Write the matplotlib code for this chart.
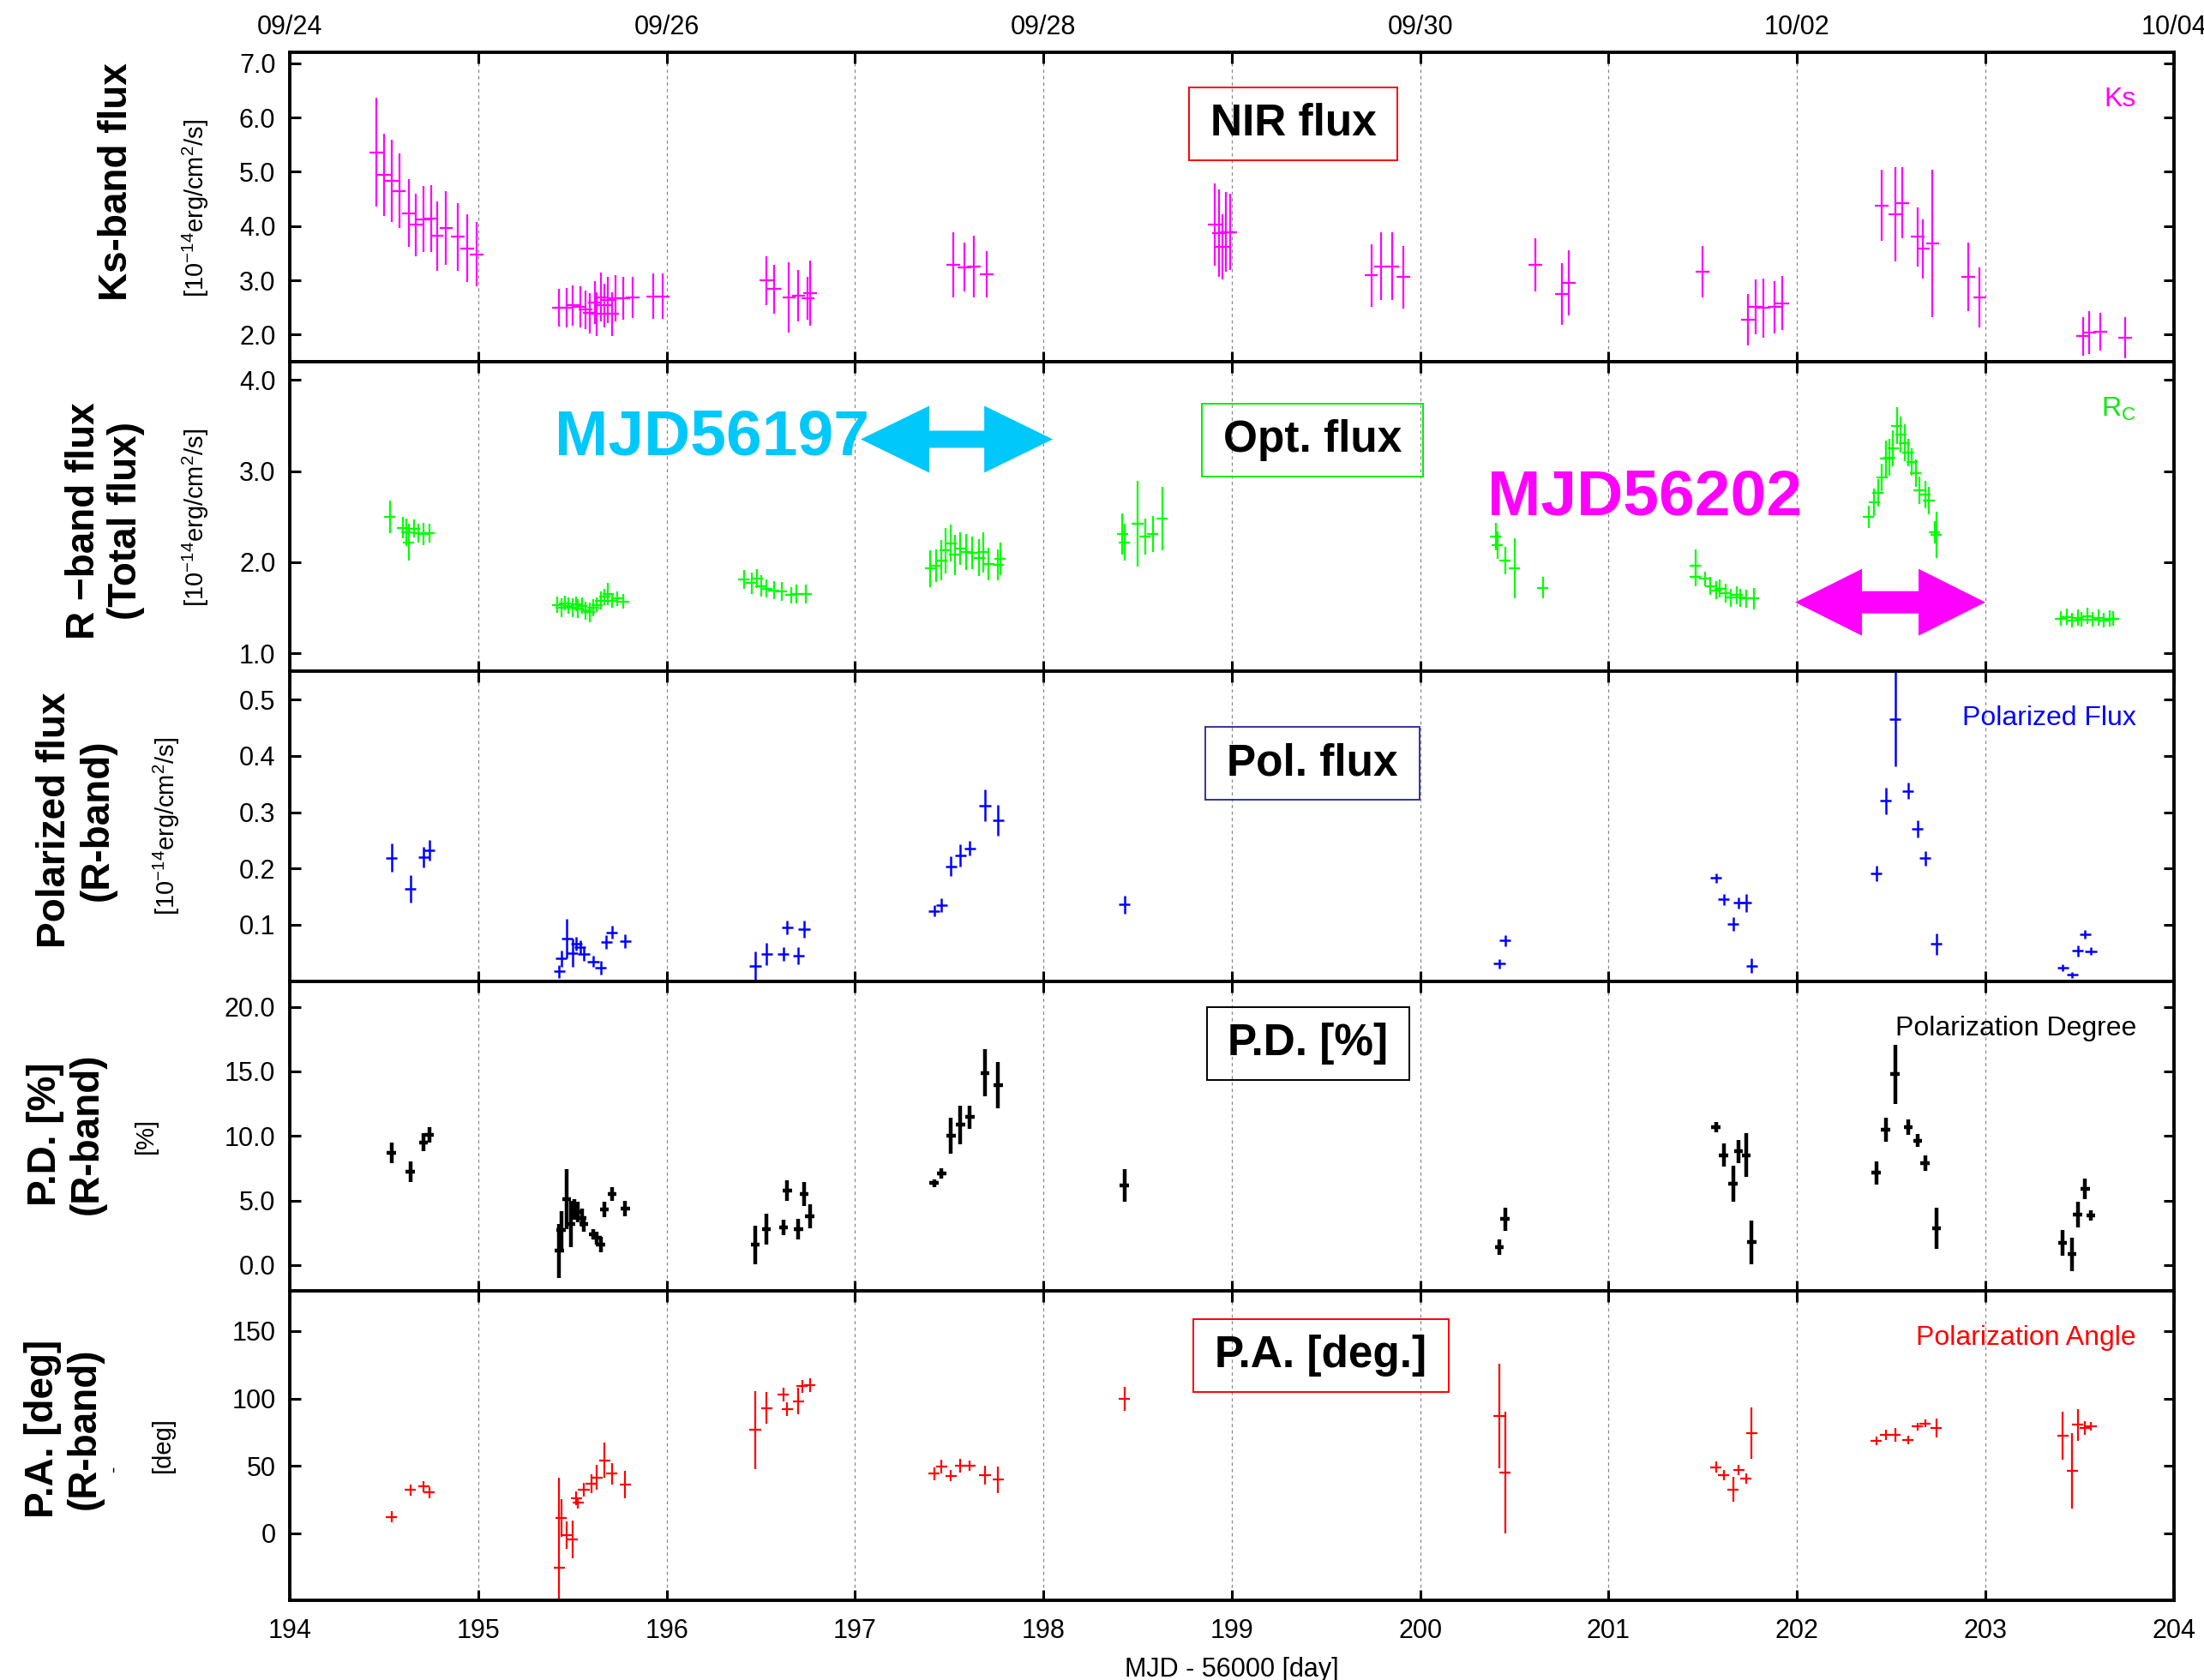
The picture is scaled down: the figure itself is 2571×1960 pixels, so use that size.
import matplotlib
matplotlib.use("Agg")
import matplotlib.pyplot as plt
from matplotlib.patches import Rectangle, Polygon
import numpy as np

plt.rcParams['font.family'] = ['Liberation Sans', 'DejaVu Sans']
plt.rcParams['mathtext.fontset'] = 'custom'
plt.rcParams['mathtext.rm'] = 'Liberation Sans'
plt.rcParams['mathtext.it'] = 'Liberation Sans:italic'
plt.rcParams['mathtext.bf'] = 'Liberation Sans:bold'

# ---------------- data (MJD - 56000) ----------------
# Ks band flux [1e-14 erg/cm2/s]
ks_mjd = [194.46, 194.50, 194.54, 194.58, 194.63, 194.67, 194.71, 194.75, 194.78, 194.83, 194.89, 194.94, 194.99,
          195.43, 195.47, 195.50, 195.54, 195.57, 195.59, 195.62, 195.63, 195.65, 195.67, 195.69, 195.71, 195.73,
          195.77, 195.82, 195.93, 195.98,
          196.53, 196.57, 196.65, 196.70, 196.75, 196.76,
          197.52, 197.58, 197.63, 197.70,
          198.91, 198.93, 198.95, 198.97, 198.99,
          199.74, 199.79, 199.85, 199.91,
          200.61, 200.75, 200.79,
          201.50, 201.74, 201.78, 201.82, 201.88, 201.92,
          202.45, 202.52, 202.56, 202.64, 202.67, 202.72, 202.91, 202.97,
          203.52, 203.55, 203.61, 203.74]
ks_flux = [5.36, 4.94, 4.83, 4.65, 4.24, 4.02, 4.13, 4.14, 3.82, 3.97, 3.80, 3.59, 3.48,
           2.50, 2.50, 2.54, 2.51, 2.46, 2.40, 2.59, 2.38, 2.69, 2.54, 2.64, 2.38, 2.67,
           2.67, 2.69, 2.71, 2.71,
           3.00, 2.84, 2.69, 2.72, 2.67, 2.77,
           3.29, 3.24, 3.26, 3.11,
           4.03, 3.87, 3.61, 3.89, 3.89,
           3.09, 3.26, 3.26, 3.06,
           3.29, 2.75, 2.96,
           3.16, 2.28, 2.51, 2.49, 2.51, 2.58,
           4.38, 4.22, 4.43, 3.80, 3.58, 3.68, 3.06, 2.69,
           1.97, 2.04, 2.06, 1.95]
ks_err = [1.00, 0.76, 0.76, 0.68, 0.63, 0.58, 0.60, 0.62, 0.64, 0.68, 0.63, 0.62, 0.59,
          0.35, 0.36, 0.37, 0.38, 0.35, 0.37, 0.40, 0.40, 0.45, 0.40, 0.42, 0.40, 0.42,
          0.40, 0.38, 0.42, 0.42,
          0.45, 0.45, 0.65, 0.47, 0.40, 0.60,
          0.60, 0.45, 0.57, 0.43,
          0.76, 0.80, 0.60, 0.73, 0.70,
          0.58, 0.62, 0.62, 0.58,
          0.49, 0.57, 0.60,
          0.48, 0.47, 0.50, 0.54, 0.48, 0.50,
          0.65, 0.87, 0.65, 0.55, 0.55, 1.35, 0.63, 0.55,
          0.35, 0.40, 0.35, 0.38]

# Rc band total flux [1e-14 erg/cm2/s]
r_mjd = [194.53, 194.60, 194.62, 194.63, 194.66, 194.68, 194.71, 194.74,
         195.42, 195.44, 195.46, 195.48, 195.50, 195.52, 195.53, 195.55, 195.57, 195.59, 195.61, 195.63,
         195.65, 195.67, 195.69, 195.71, 195.74, 195.77,
         196.41, 196.45, 196.48, 196.50, 196.53, 196.57, 196.61, 196.66, 196.69, 196.74,
         197.40, 197.43, 197.46, 197.48, 197.51, 197.53, 197.56, 197.59, 197.62, 197.66, 197.68, 197.71,
         197.76, 197.77,
         198.42, 198.43, 198.50, 198.54, 198.58, 198.63,
         200.40, 200.41, 200.45, 200.50, 200.65,
         201.46, 201.46, 201.51, 201.54, 201.57, 201.59, 201.62, 201.65, 201.68, 201.70, 201.73, 201.77,
         202.38, 202.41, 202.43, 202.45, 202.47, 202.49, 202.51, 202.53, 202.55, 202.57, 202.59, 202.61,
         202.63, 202.65, 202.68, 202.70, 202.73, 202.74,
         203.40, 203.43, 203.46, 203.49, 203.51, 203.54, 203.57, 203.60, 203.63, 203.66, 203.68]
r_flux = [2.50, 2.38, 2.33, 2.22, 2.37, 2.32, 2.31, 2.32,
          1.53, 1.50, 1.55, 1.52, 1.50, 1.54, 1.49, 1.52, 1.47, 1.45, 1.50, 1.53,
          1.58, 1.62, 1.65, 1.58, 1.60, 1.57,
          1.81, 1.77, 1.82, 1.74, 1.71, 1.69, 1.68, 1.64, 1.65, 1.65,
          1.93, 1.96, 2.02, 2.13, 2.21, 2.08, 2.15, 2.11, 2.10, 2.05, 2.11, 1.98,
          1.97, 2.04,
          2.31, 2.22, 2.42, 2.28, 2.31, 2.48,
          2.28, 2.19, 2.02, 1.93, 1.72,
          1.96, 1.84, 1.82, 1.74, 1.69, 1.71, 1.66, 1.61, 1.64, 1.61, 1.60, 1.60,
          2.50, 2.66, 2.76, 2.93, 3.14, 3.15, 3.25, 3.50, 3.40, 3.31, 3.20, 3.10,
          2.98, 2.79, 2.74, 2.68, 2.33, 2.30,
          1.38, 1.40, 1.36, 1.39, 1.37, 1.41, 1.37, 1.39, 1.36, 1.38, 1.38]
r_err = [0.18, 0.12, 0.15, 0.20, 0.10, 0.10, 0.12, 0.10,
         0.09, 0.10, 0.08, 0.09, 0.10, 0.08, 0.10, 0.09, 0.10, 0.11, 0.09, 0.08,
         0.10, 0.09, 0.12, 0.08, 0.08, 0.08,
         0.10, 0.12, 0.10, 0.12, 0.10, 0.10, 0.10, 0.09, 0.10, 0.10,
         0.20, 0.18, 0.22, 0.25, 0.20, 0.22, 0.18, 0.20, 0.18, 0.20, 0.22, 0.18,
         0.17, 0.18,
         0.23, 0.20, 0.47, 0.20, 0.20, 0.35,
         0.15, 0.15, 0.15, 0.33, 0.12,
         0.18, 0.10, 0.08, 0.10, 0.10, 0.10, 0.10, 0.10, 0.10, 0.10, 0.10, 0.12,
         0.12, 0.15, 0.15, 0.15, 0.20, 0.20, 0.20, 0.20, 0.20, 0.20, 0.15, 0.15,
         0.15, 0.15, 0.15, 0.15, 0.12, 0.25,
         0.08, 0.09, 0.08, 0.09, 0.08, 0.09, 0.08, 0.09, 0.08, 0.09, 0.08]

# Polarized flux (R band) [1e-14 erg/cm2/s]
pf_mjd = [194.54, 194.64, 194.71, 194.74,
          195.43, 195.44, 195.47, 195.50, 195.52, 195.54, 195.56, 195.61, 195.65, 195.68, 195.71, 195.78,
          196.47, 196.53, 196.62, 196.64, 196.70, 196.73,
          197.42, 197.46, 197.51, 197.56, 197.61, 197.69, 197.76,
          198.43,
          200.42, 200.45,
          201.57, 201.61, 201.66, 201.69, 201.73, 201.76,
          202.42, 202.47, 202.52, 202.59, 202.64, 202.68, 202.74,
          203.41, 203.46, 203.49, 203.53, 203.56]
pf_val = [0.219, 0.164, 0.220, 0.232,
          0.017, 0.040, 0.076, 0.050, 0.066, 0.060, 0.048, 0.035, 0.024, 0.070, 0.087, 0.071,
          0.027, 0.048, 0.048, 0.095, 0.045, 0.092,
          0.125, 0.135, 0.204, 0.223, 0.236, 0.312, 0.286,
          0.136,
          0.031, 0.072,
          0.183, 0.145, 0.102, 0.139, 0.139, 0.027,
          0.191, 0.320, 0.466, 0.338, 0.271, 0.218, 0.066,
          0.024, 0.011, 0.054, 0.083, 0.053]
pf_err = [0.025, 0.025, 0.018, 0.018,
          0.012, 0.015, 0.035, 0.025, 0.012, 0.012, 0.012, 0.010, 0.012, 0.012, 0.012, 0.012,
          0.025, 0.020, 0.012, 0.012, 0.015, 0.015,
          0.010, 0.012, 0.018, 0.020, 0.013, 0.028, 0.027,
          0.016,
          0.008, 0.010,
          0.008, 0.010, 0.012, 0.010, 0.016, 0.013,
          0.014, 0.023, 0.084, 0.014, 0.015, 0.013, 0.019,
          0.006, 0.005, 0.010, 0.008, 0.007]

# Polarization degree [%]
pd_mjd = [194.54, 194.64, 194.71, 194.74,
          195.43, 195.44, 195.47, 195.49, 195.51, 195.53, 195.55, 195.56, 195.61, 195.63, 195.65, 195.67,
          195.71, 195.78,
          196.47, 196.53, 196.62, 196.64, 196.70, 196.73, 196.76,
          197.42, 197.46, 197.51, 197.56, 197.61, 197.69, 197.76,
          198.43,
          200.42, 200.45,
          201.57, 201.61, 201.66, 201.69, 201.73, 201.76,
          202.42, 202.47, 202.52, 202.59, 202.64, 202.68, 202.74,
          203.41, 203.46, 203.49, 203.53, 203.56]
pd_val = [8.7, 7.2, 9.5, 10.1,
          1.1, 2.7, 5.1, 3.2, 4.3, 4.1, 3.65, 3.2, 2.4, 2.1, 1.55, 4.3,
          5.5, 4.4,
          1.55, 2.77, 2.9, 5.75, 2.77, 5.5, 3.77,
          6.35, 7.1, 10.0, 10.85, 11.45, 14.9, 13.95,
          6.16,
          1.4, 3.55,
          10.7, 8.5, 6.27, 8.8, 8.5, 1.77,
          7.13, 10.47, 14.77, 10.7, 9.63, 7.9, 2.86,
          1.7, 0.82, 3.88, 5.91, 3.84]
pd_err = [0.8, 0.8, 0.7, 0.6,
          2.1, 1.5, 2.3, 1.8, 0.8, 0.8, 0.7, 0.6, 0.4, 0.5, 0.6, 0.6,
          0.5, 0.6,
          1.5, 1.2, 0.6, 0.8, 0.8, 0.9, 0.9,
          0.3, 0.4, 1.4, 1.5, 0.9, 1.8, 1.8,
          1.25,
          0.6, 0.9,
          0.4, 0.9, 1.4, 0.9, 1.7, 1.7,
          0.9, 0.95, 2.3, 0.6, 0.5, 0.6, 1.6,
          1.0, 1.3, 1.0, 0.8, 0.4]

# Polarization angle [deg]
pa_mjd = [194.54, 194.64, 194.71, 194.74,
          195.43, 195.44, 195.47, 195.50, 195.52, 195.53, 195.56, 195.60, 195.63, 195.67, 195.71, 195.78,
          196.47, 196.53, 196.62, 196.64, 196.70, 196.72, 196.76,
          197.42, 197.46, 197.51, 197.56, 197.61, 197.69, 197.76,
          198.43,
          200.42, 200.45,
          201.57, 201.61, 201.66, 201.69, 201.73, 201.76,
          202.42, 202.47, 202.52, 202.59, 202.64, 202.68, 202.74,
          203.41, 203.46, 203.49, 203.53, 203.56]
pa_val = [12.0, 32.0, 34.6, 30.0,
          -26.0, 11.3, -1.5, -4.7, 26.0, 22.5, 32.0, 36.8, 41.4, 54.0, 44.0, 36.0,
          76.7, 93.0, 103.0, 92.0, 98.0, 109.0, 110.0,
          44.0, 49.5, 42.7, 50.0, 50.0, 43.0, 39.7,
          99.9,
          87.0, 45.0,
          48.9, 43.0, 32.5, 46.8, 40.6, 74.4,
          68.6, 72.9, 72.9, 69.0, 79.0, 81.4, 78.0,
          72.2, 46.0, 80.3, 78.0, 79.3]
pa_err = [4, 4, 4, 4,
          67, 14, 10, 14, 5, 4, 5, 7, 9, 13, 8, 10,
          29, 12, 5, 5, 10, 5, 5,
          5, 5, 4, 5, 4, 7, 10,
          9,
          39, 45,
          4, 4, 9, 4, 4, 19,
          3, 4, 5, 3, 3, 3, 7,
          18, 28, 12, 5, 3]

date_ticks = [194, 196, 198, 200, 202, 204]
date_labels = ["09/24", "09/26", "09/28", "09/30", "10/02", "10/04"]

# ---------------- figure ----------------
fig, axes = plt.subplots(5, 1, sharex=True, figsize=(25.71, 19.6), dpi=100)
fig.subplots_adjust(left=0.1315, right=0.9863, top=0.9689, bottom=0.0474, hspace=0)

panels = [
    dict(x=ks_mjd, y=ks_flux, e=ks_err, c='#ff00ff', lw=1.6, xe=0.036,
         ylim=(1.5, 7.2), ticks=[2, 3, 4, 5, 6, 7], fmt='%.1f',
         tag='Ks', box='NIR flux', boxc='#ff0000', boxpos=(0.4773, 0.652, 0.1105, 0.235),
         label='Ks-band flux', lx=0.0529, ly=0.8918,
         unit=r'[10$^{-14}$erg/cm$^{2}$/s]', ux=0.0887, uy=0.876),
    dict(x=r_mjd, y=r_flux, e=r_err, c='#00ff00', lw=1.6, xe=0.03,
         ylim=(0.8, 4.2), ticks=[1, 2, 3, 4], fmt='%.1f',
         tag=r'R$_\mathrm{C}$', box='Opt. flux', boxc='#00ee00', boxpos=(0.4841, 0.629, 0.1174, 0.235),
         label='R \u2212band flux\n(Total flux)', lx=0.0475, ly=0.690,
         unit=r'[10$^{-14}$erg/cm$^{2}$/s]', ux=0.0887, uy=0.692),
    dict(x=pf_mjd, y=pf_val, e=pf_err, c='#0000ff', lw=1.8, xe=0.03,
         ylim=(0.0, 0.55), ticks=[0.1, 0.2, 0.3, 0.4, 0.5], fmt='%.1f',
         tag='Polarized Flux', box='Pol. flux', boxc='#33339a', boxpos=(0.4859, 0.587, 0.1137, 0.233),
         label='Polarized flux\n(R-band)', lx=0.0346, ly=0.512,
         unit=r'[10$^{-14}$erg/cm$^{2}$/s]', ux=0.0758, uy=0.508),
    dict(x=pd_mjd, y=pd_val, e=pd_err, c='#000000', lw=3.2, xe=0.024,
         ylim=(-2, 22), ticks=[0, 5, 10, 15, 20], fmt='%.1f',
         tag='Polarization Degree', box='P.D. [%]', boxc='#000000', boxpos=(0.4868, 0.682, 0.1074, 0.235),
         label='P.D. [%]\n(R-band)', lx=0.030, ly=0.325,
         unit='[%]', ux=0.0661, uy=0.324),
    dict(x=pa_mjd, y=pa_val, e=pa_err, c='#ff0000', lw=1.6, xe=0.03,
         ylim=(-50, 180), ticks=[0, 50, 100, 150], fmt='%d',
         tag='Polarization Angle', box='P.A. [deg.]', boxc='#ff0000', boxpos=(0.4795, 0.674, 0.1356, 0.235),
         label='P.A. [deg]\n(R-band)', lx=0.029, ly=0.1495,
         unit='[deg]', ux=0.0739, uy=0.140),
]

for ax, p in zip(axes, panels):
    ax.errorbar(p['x'], p['y'], yerr=p['e'], xerr=p['xe'], fmt='none',
                ecolor=p['c'], elinewidth=p['lw'], capsize=0)
    ax.set_xlim(194, 204)
    ax.set_ylim(*p['ylim'])
    ax.set_yticks(p['ticks'])
    ax.set_yticklabels([p['fmt'] % t for t in p['ticks']])
    ax.set_xticks(np.arange(194, 205, 1))
    ax.grid(axis='x', color='#888888', linestyle=(0, (3, 3)), linewidth=0.9)
    ax.tick_params(axis='both', direction='in', length=9, width=2.2,
                   top=True, right=True, labelsize=22)
    ax.tick_params(axis='y', pad=12)
    ax.tick_params(axis='x', pad=15)
    for s in ax.spines.values():
        s.set_linewidth(2.8)

    ax.text(0.980, 0.848, p['tag'], transform=ax.transAxes, ha='right', va='center',
            fontsize=23, color=p['c'] if p['c'] != '#00ff00' else '#00ee00')
    bx, by, bw, bh = p['boxpos']
    ax.add_patch(Rectangle((bx, by), bw, bh, transform=ax.transAxes, fill=False,
                           edgecolor=p['boxc'], linewidth=1.4, zorder=5))
    ax.text(bx + bw / 2, by + bh / 2, p['box'], transform=ax.transAxes, ha='center',
            va='center', fontsize=37, fontweight='bold', zorder=6)

    fig.text(p['lx'], p['ly'], p['label'], rotation=90, ha='center', va='center',
             fontsize=33, fontweight='bold', multialignment='center', linespacing=1.15)
    fig.text(p['ux'], p['uy'], p['unit'], rotation=90, ha='center', va='center', fontsize=21)

fig.text(133 / 2571, 1 - 1713 / 1960, '-', rotation=90, ha='center', va='center', fontsize=16)

axes[-1].set_xticklabels([str(v) for v in range(194, 205)])
axes[-1].set_xlabel('MJD - 56000 [day]', fontsize=22, labelpad=11)

top = axes[0].secondary_xaxis('top')
top.set_xticks(date_ticks)
top.set_xticklabels(date_labels)
top.tick_params(length=0, labelsize=22, pad=10)
top.spines['top'].set_visible(False)


def double_arrow(ax, x0, x1, yc, head_px, half_px, shaft_px, color):
    pos = ax.get_position()
    w_px = pos.width * fig.get_figwidth() * fig.dpi
    h_px = pos.height * fig.get_figheight() * fig.dpi
    xl, yl = ax.get_xlim(), ax.get_ylim()
    hl = head_px * (xl[1] - xl[0]) / w_px
    hw = half_px * (yl[1] - yl[0]) / h_px
    sw = shaft_px * (yl[1] - yl[0]) / h_px
    verts = [(x0, yc), (x0 + hl, yc + hw), (x0 + hl, yc + sw), (x1 - hl, yc + sw),
             (x1 - hl, yc + hw), (x1, yc), (x1 - hl, yc - hw), (x1 - hl, yc - sw),
             (x0 + hl, yc - sw), (x0 + hl, yc - hw)]
    ax.add_patch(Polygon(verts, closed=True, facecolor=color, edgecolor='none', zorder=7))


ax_r = axes[1]
double_arrow(ax_r, 197.03, 198.05, 3.35, 80, 39, 10, '#00c8fa')
double_arrow(ax_r, 201.99, 203.0, 1.56, 78, 39, 13, '#ff00ff')
ax_r.text(196.24, 3.18, 'MJD56197', ha='center', va='baseline', fontsize=54,
          fontweight='bold', color='#00c8fa', zorder=8)
ax_r.text(201.19, 2.52, 'MJD56202', ha='center', va='baseline', fontsize=54,
          fontweight='bold', color='#ff00ff', zorder=8)

fig.savefig('out.png', dpi=100)
